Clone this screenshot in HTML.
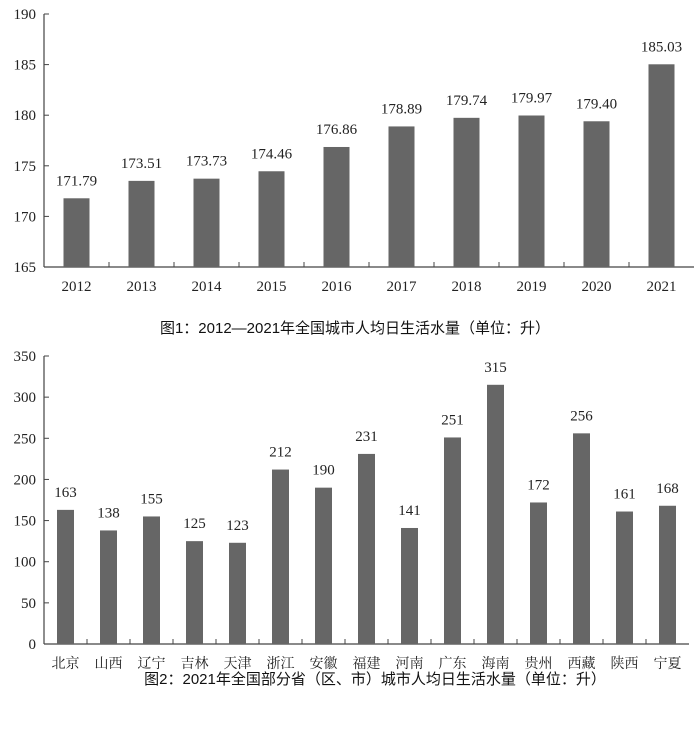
<!DOCTYPE html>
<html><head><meta charset="utf-8"><style>
body{margin:0;background:#fff;width:698px;height:732px;overflow:hidden}
svg text{font-family:"Liberation Serif","Noto Serif CJK SC",serif;fill:#222}
.t{font-family:"Liberation Sans","Noto Sans CJK SC",sans-serif;font-size:15px;fill:#111}
</style></head><body>
<svg id="s" width="698" height="732"></svg>
<script>
const years=["2012","2013","2014","2015","2016","2017","2018","2019","2020","2021"];
const yearVals=[171.79,173.51,173.73,174.46,176.86,178.89,179.74,179.97,179.40,185.03];
const yearLabels=["171.79","173.51","173.73","174.46","176.86","178.89","179.74","179.97","179.40","185.03"];
const ticks1=[165,170,175,180,185,190];
const provs=["北京","山西","辽宁","吉林","天津","浙江","安徽","福建","河南","广东","海南","贵州","西藏","陕西","宁夏"];
const provVals=[163,138,155,125,123,212,190,231,141,251,315,172,256,161,168];
const ticks2=[0,50,100,150,200,250,300,350];
const NS="http://www.w3.org/2000/svg",svg=document.getElementById('s');
function mk(t,a,p){const e=document.createElementNS(NS,t);for(const k in a)e.setAttribute(k,a[k]);(p||svg).appendChild(e);return e;}
function chart(name,cats,vals,labels,ticks,x0,x1,yTop,yBot,bw,catSize){
  const g=mk('g',{});
  
  
  const mn=ticks[0],mx=ticks[ticks.length-1];
  const y=v=>yBot-(v-mn)/(mx-mn)*(yBot-yTop);
  const cw=(x1-x0)/cats.length;
  mk('line',{x1:x0,y1:yTop,x2:x0,y2:yBot,stroke:'#444','stroke-width':1.2},g);
  mk('line',{x1:x0,y1:yBot,x2:x1,y2:yBot,stroke:'#444','stroke-width':1.2},g);
  ticks.forEach(t=>{
    mk('line',{x1:x0,y1:y(t),x2:x0+5,y2:y(t),stroke:'#444'},g);
    const tx=mk('text',{x:x0-8,y:y(t)+5,'text-anchor':'end','font-size':15},g);tx.textContent=t;
    
    
  });
  cats.forEach((c,i)=>{
    const cx=x0+cw*(i+0.5);
    if(i>0)mk('line',{x1:x0+cw*i,y1:yBot,x2:x0+cw*i,y2:yBot-5,stroke:'#444'},g);
    const r=mk('rect',{x:cx-bw/2,y:y(vals[i]),width:bw,height:yBot-y(vals[i]),fill:'#666'},g);
    
    
    const lt=mk('text',{x:cx,y:y(vals[i])-13,'text-anchor':'middle','font-size':15},g);lt.textContent=labels[i];
    
    
    const ct=mk('text',{x:cx,y:yBot+24,'text-anchor':'middle','font-size':catSize},g);ct.textContent=c;
    
    
  });
}
chart('chart-1',years,yearVals,yearLabels,ticks1,44,694,14,267,26,15);
chart('chart-2',provs,provVals,provVals.map(String),ticks2,44,689,356,644,17,14);
const t1=mk('text',{x:355,y:333,'text-anchor':'middle',class:'t'});t1.textContent='图1：2012—2021年全国城市人均日生活水量（单位：升）';


const t2=mk('text',{x:375,y:684,'text-anchor':'middle',class:'t'});t2.textContent='图2：2021年全国部分省（区、市）城市人均日生活水量（单位：升）';


</script>
</body></html>
